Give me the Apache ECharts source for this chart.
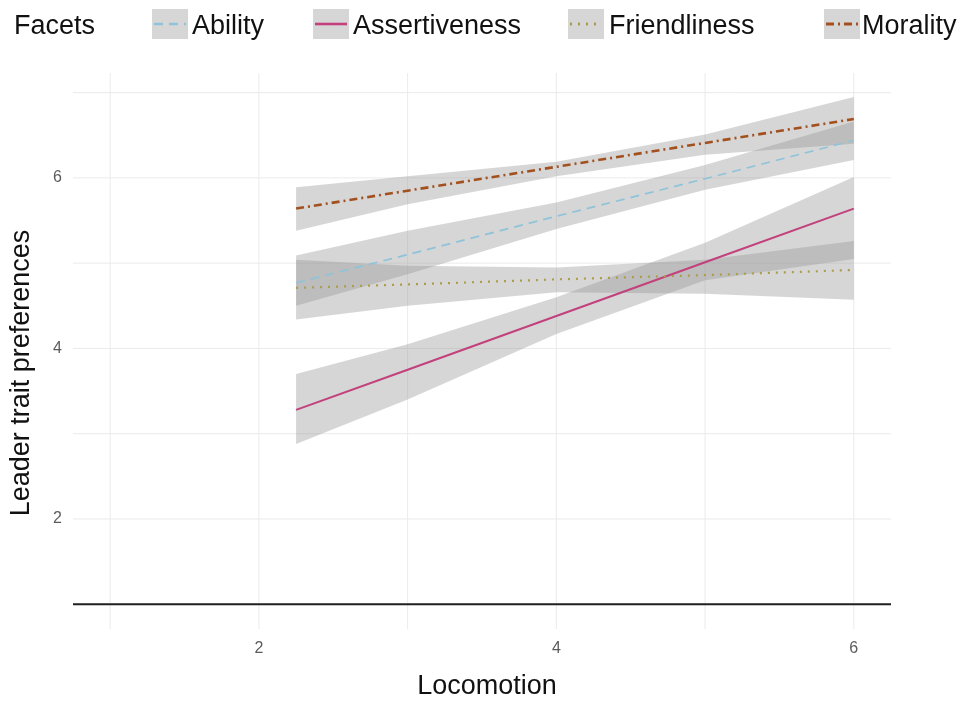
<!DOCTYPE html>
<html>
<head>
<meta charset="utf-8">
<script src="https://cdn.jsdelivr.net/npm/echarts@6/dist/echarts.min.js"></script>
<style>
html,body{margin:0;padding:0;background:#fff;}
#chart{width:960px;height:701px;}
</style>
</head>
<body>
<div id="chart"></div>
<script>
// ---- data ----
const facets = ['Ability', 'Assertiveness', 'Friendliness', 'Morality'];
const locomotion = [2.25, 3, 4, 5, 6];

const abilityFit  = [4.77, 5.10, 5.55, 5.99, 6.44];
const abilityLow  = [4.50, 4.87, 5.40, 5.86, 6.21];
const abilityHigh = [5.09, 5.38, 5.71, 6.15, 6.66];

const assertFit  = [3.28, 3.75, 4.38, 5.01, 5.64];
const assertLow  = [2.88, 3.40, 4.17, 4.80, 5.05];
const assertHigh = [3.70, 4.05, 4.60, 5.24, 6.01];

const friendFit  = [4.71, 4.75, 4.81, 4.86, 4.92];
const friendLow  = [4.34, 4.50, 4.66, 4.64, 4.57];
const friendHigh = [5.04, 4.97, 4.95, 5.04, 5.26];

const moralFit  = [5.64, 5.85, 6.13, 6.41, 6.69];
const moralLow  = [5.38, 5.69, 6.02, 6.27, 6.40];
const moralHigh = [5.89, 6.02, 6.19, 6.51, 6.95];

const xTicks = [2, 4, 6];
const yTicks = [2, 4, 6];
const xGrid = [1, 2, 3, 4, 5, 6];
const yGrid = [2, 3, 4, 5, 6, 7];
const refLine = [1];

const xTitle = 'Locomotion';
const yTitle = 'Leader trait preferences';
const legendTitle = 'Facets';

const xMin = 0.75, xMax = 6.25, yMin = 0.71, yMax = 7.23;

// ---- styles ----
const FONT = '"Liberation Sans", Arial, sans-serif';
const colors = {
  Ability: '#8ec3d9',
  Assertiveness: '#c2417c',
  Friendliness: '#ab9d4a',
  Morality: '#a3501f'
};
const lineStyles = {
  Ability: { width: 1.7, type: [9, 6] },
  Assertiveness: { width: 2, type: 'solid' },
  Friendliness: { width: 2.2, type: [2, 6] },
  Morality: { width: 2.6, type: [8, 4, 2, 4] }
};
const bandFill = 'rgba(153,153,153,0.4)';

const fits = { Ability: abilityFit, Assertiveness: assertFit, Friendliness: friendFit, Morality: moralFit };
const lows = { Ability: abilityLow, Assertiveness: assertLow, Friendliness: friendLow, Morality: moralLow };
const highs = { Ability: abilityHigh, Assertiveness: assertHigh, Friendliness: friendHigh, Morality: moralHigh };

const chart = echarts.init(document.getElementById('chart'), null, { renderer: 'canvas' });

const series = [];

// grid lines
series.push({
  type: 'custom', name: 'xgrid', silent: true, z: 0,
  data: xGrid.map(v => [v, yMin]),
  renderItem: (params, api) => {
    const x = api.value(0);
    const p1 = api.coord([x, yMin]);
    const p2 = api.coord([x, yMax]);
    return { type: 'line', shape: { x1: p1[0], y1: p1[1], x2: p2[0], y2: p2[1] },
      style: { stroke: '#ebebeb', lineWidth: 1 } };
  }
});
series.push({
  type: 'custom', name: 'ygrid', silent: true, z: 0,
  data: yGrid.map(v => [xMin, v]),
  renderItem: (params, api) => {
    const y = api.value(1);
    const p1 = api.coord([xMin, y]);
    const p2 = api.coord([xMax, y]);
    return { type: 'line', shape: { x1: p1[0], y1: p1[1], x2: p2[0], y2: p2[1] },
      style: { stroke: '#ebebeb', lineWidth: 1 } };
  }
});
// reference line at y = 1
series.push({
  type: 'custom', name: 'ref', silent: true, z: 1,
  data: refLine.map(v => [xMin, v]),
  renderItem: (params, api) => {
    const y = api.value(1);
    const p1 = api.coord([xMin, y]);
    const p2 = api.coord([xMax, y]);
    return { type: 'line', shape: { x1: p1[0], y1: p1[1], x2: p2[0], y2: p2[1] },
      style: { stroke: '#1f1f1f', lineWidth: 2 } };
  }
});

// confidence bands
facets.forEach(f => {
  const lo = lows[f], hi = highs[f];
  series.push({
    type: 'custom', name: f + ' band', silent: true, z: 2,
    data: [[locomotion[0], lo[0]]],
    renderItem: (params, api) => {
      const pts = [];
      for (let i = 0; i < locomotion.length; i++) pts.push(api.coord([locomotion[i], lo[i]]));
      for (let i = locomotion.length - 1; i >= 0; i--) pts.push(api.coord([locomotion[i], hi[i]]));
      return { type: 'polygon', shape: { points: pts }, style: { fill: bandFill } };
    }
  });
});

// fitted lines
facets.forEach(f => {
  series.push({
    type: 'line', name: f, z: 3, symbol: 'none', silent: true,
    data: locomotion.map((x, i) => [x, fits[f][i]]),
    lineStyle: Object.assign({ color: colors[f] }, lineStyles[f])
  });
});

// legend (drawn as graphic: grey key box with line sample + label)
const legendItems = [
  { name: 'Ability', box: 152, text: 192 },
  { name: 'Assertiveness', box: 313, text: 353 },
  { name: 'Friendliness', box: 568, text: 609 },
  { name: 'Morality', box: 824, text: 862 }
];
const graphics = [{
  type: 'text', x: 14, y: 27,
  style: { text: legendTitle, font: '27px ' + FONT, fill: '#111', textVerticalAlign: 'middle' }
}];
legendItems.forEach(it => {
  graphics.push({
    type: 'rect', shape: { x: it.box, y: 9, width: 36, height: 30 },
    style: { fill: '#d6d6d6' }
  });
  const ls = lineStyles[it.name];
  graphics.push({
    type: 'line', shape: { x1: it.box + 2, y1: 24, x2: it.box + 34, y2: 24 },
    style: { stroke: colors[it.name], lineWidth: ls.width + 0.6, lineDash: ls.type === 'solid' ? null : ls.type }
  });
  graphics.push({
    type: 'text', x: it.text, y: 27,
    style: { text: it.name, font: '27px ' + FONT, fill: '#111', textVerticalAlign: 'middle' }
  });
});
// axis titles
graphics.push({
  type: 'text', x: 487, y: 687,
  style: { text: xTitle, font: '27px ' + FONT, fill: '#111', textAlign: 'center', textVerticalAlign: 'middle' }
});
graphics.push({
  type: 'text', x: 22, y: 373, rotation: Math.PI / 2,
  style: { text: yTitle, font: '27px ' + FONT, fill: '#111', textAlign: 'center', textVerticalAlign: 'middle' }
});

chart.setOption({
  animation: false,
  backgroundColor: '#fff',
  grid: { left: 73, right: 69, top: 73, bottom: 72, containLabel: false },
  xAxis: {
    type: 'value', min: xMin, max: xMax,
    axisLine: { show: false }, axisTick: { show: false }, splitLine: { show: false },
    axisLabel: { customValues: xTicks, color: '#5c5c5c', fontSize: 16, margin: 12, fontFamily: FONT }
  },
  yAxis: {
    type: 'value', min: yMin, max: yMax,
    axisLine: { show: false }, axisTick: { show: false }, splitLine: { show: false },
    axisLabel: { customValues: yTicks, color: '#5c5c5c', fontSize: 16, margin: 11, fontFamily: FONT }
  },
  graphic: graphics,
  series: series
});
</script>
</body>
</html>
